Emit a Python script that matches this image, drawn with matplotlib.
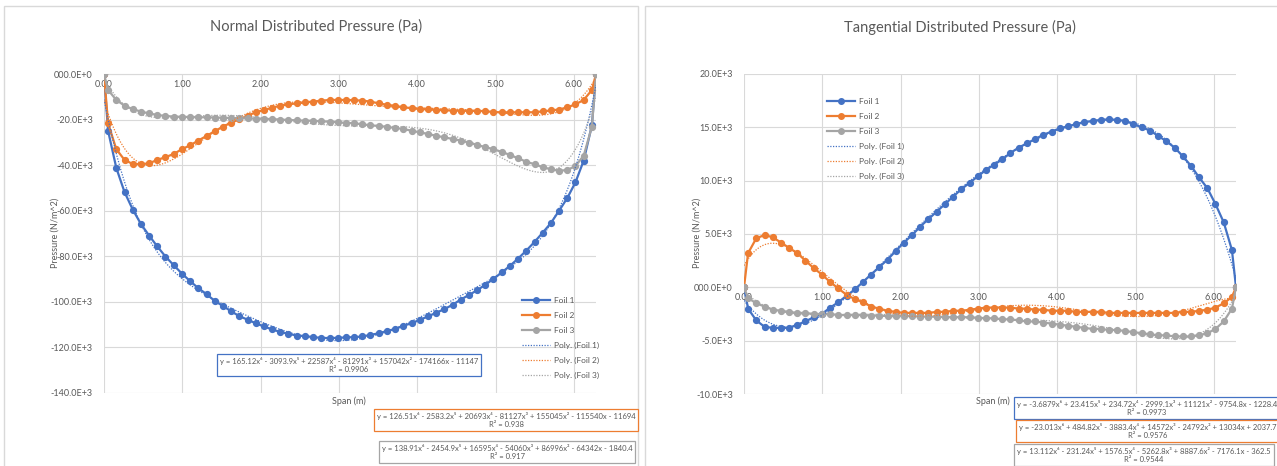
import numpy as np
import matplotlib
matplotlib.use("Agg")
import matplotlib.pyplot as plt
from matplotlib.lines import Line2D
from matplotlib.patches import Rectangle

plt.rcParams['font.family'] = ['Lato', 'DejaVu Sans']

# span positions (m) of the 62 nodes
span = [0.0, 0.052, 0.157, 0.262, 0.367, 0.471, 0.576, 0.681, 0.785, 0.890,
        0.995, 1.100, 1.204, 1.309, 1.414, 1.518, 1.623, 1.728, 1.833, 1.937,
        2.042, 2.147, 2.251, 2.356, 2.461, 2.566, 2.670, 2.775, 2.880, 2.985,
        3.089, 3.194, 3.299, 3.403, 3.508, 3.613, 3.718, 3.822, 3.927, 4.032,
        4.136, 4.241, 4.346, 4.451, 4.555, 4.660, 4.765, 4.869, 4.974, 5.079,
        5.184, 5.288, 5.393, 5.498, 5.603, 5.707, 5.812, 5.917, 6.021, 6.126,
        6.231, 6.283]

# normal pressure (E+3 Pa)
normal_foil1 = [0, -24.9, -41.2, -51.8, -59.5, -65.8, -70.9, -75.7, -80.1, -83.9,
                -87.6, -90.9, -94.0, -96.6, -99.6, -101.8, -104.1, -106.3, -107.8, -109.4,
                -110.8, -112.1, -113.2, -114.0, -114.8, -115.0, -115.5, -115.8, -115.9, -115.8,
                -115.6, -115.5, -115.2, -114.5, -113.8, -112.8, -111.9, -110.5, -109.4, -107.9,
                -106.4, -104.8, -103.2, -101.3, -99.0, -97.0, -94.9, -92.5, -89.9, -87.1,
                -84.2, -81.0, -77.5, -73.7, -69.6, -65.4, -60.0, -54.4, -47.5, -38.0,
                -22.4, 0]
normal_foil2 = [0, -21.6, -33.0, -37.7, -39.5, -39.6, -39.2, -37.7, -36.5, -35.1,
                -33.0, -31.3, -29.2, -27.2, -25.1, -23.1, -21.4, -19.9, -18.3, -16.8,
                -15.8, -14.8, -13.9, -13.3, -12.9, -12.5, -12.1, -11.7, -11.4, -11.4,
                -11.4, -11.5, -11.7, -12.1, -12.9, -13.5, -14.0, -14.6, -15.0, -15.4,
                -15.5, -15.8, -15.9, -16.1, -16.1, -16.2, -16.2, -16.3, -16.7, -16.8,
                -16.8, -16.8, -16.8, -16.8, -16.4, -16.0, -15.6, -14.6, -13.3, -11.4,
                -7.0, 0]
normal_foil3 = [0, -7.0, -11.4, -13.9, -15.4, -16.5, -17.3, -18.0, -18.4, -18.7,
                -18.8, -18.9, -19.0, -19.0, -19.1, -19.2, -19.3, -19.4, -19.5, -19.6,
                -19.7, -19.8, -20.0, -20.2, -20.3, -20.5, -20.5, -20.8, -20.9, -21.2,
                -21.5, -21.6, -22.1, -22.5, -22.8, -23.2, -23.7, -24.1, -24.9, -25.6,
                -26.3, -27.1, -27.8, -28.5, -29.2, -30.1, -31.1, -32.1, -33.0, -34.2,
                -35.5, -37.0, -38.5, -39.6, -40.9, -41.8, -42.5, -42.1, -40.4, -35.8,
                -23.1, 0]

# tangential pressure (E+3 Pa)
tang_foil1 = [0, -2.0, -3.1, -3.7, -3.8, -3.8, -3.8, -3.5, -3.2, -2.8,
              -2.5, -1.9, -1.4, -0.8, -0.2, 0.5, 1.2, 1.9, 2.6, 3.4,
              4.2, 4.9, 5.7, 6.4, 7.1, 7.8, 8.5, 9.2, 9.8, 10.4,
              11.0, 11.5, 12.0, 12.6, 13.1, 13.5, 13.9, 14.3, 14.6, 14.9,
              15.1, 15.3, 15.5, 15.6, 15.7, 15.75, 15.7, 15.6, 15.3, 15.0,
              14.7, 14.2, 13.7, 13.1, 12.3, 11.4, 10.3, 9.3, 7.8, 6.1,
              3.5, 0]
tang_foil2 = [0, 3.2, 4.6, 4.9, 4.7, 4.2, 3.7, 3.2, 2.5, 1.8,
              1.2, 0.5, -0.1, -0.7, -1.1, -1.4, -1.8, -2.0, -2.2, -2.3,
              -2.4, -2.4, -2.4, -2.4, -2.3, -2.3, -2.2, -2.2, -2.1, -2.0,
              -1.9, -1.9, -1.9, -1.9, -2.0, -2.0, -2.1, -2.1, -2.2, -2.2,
              -2.2, -2.3, -2.3, -2.3, -2.3, -2.4, -2.4, -2.4, -2.4, -2.4,
              -2.4, -2.4, -2.4, -2.4, -2.3, -2.3, -2.2, -2.1, -1.9, -1.5,
              -0.9, 0]
tang_foil3 = [0, -1.0, -1.5, -1.8, -2.1, -2.2, -2.3, -2.4, -2.4, -2.5,
              -2.5, -2.5, -2.6, -2.6, -2.6, -2.6, -2.65, -2.65, -2.7, -2.7,
              -2.7, -2.7, -2.75, -2.75, -2.75, -2.8, -2.8, -2.8, -2.8, -2.85,
              -2.9, -2.9, -3.0, -3.0, -3.1, -3.2, -3.2, -3.3, -3.4, -3.5,
              -3.6, -3.7, -3.8, -3.9, -3.9, -4.0, -4.0, -4.1, -4.2, -4.3,
              -4.4, -4.5, -4.5, -4.6, -4.6, -4.6, -4.5, -4.3, -3.9, -3.2,
              -2.0, 0]

# Excel 6th order trendline coefficients (Pa), highest power first
normal_poly1 = [165.12, -3093.9, 22587, -81291, 157042, -174166, -11147]
normal_poly2 = [126.51, -2583.2, 20693, -81127, 155045, -115540, -11694]
normal_poly3 = [138.91, -2454.9, 16595, -54060, 86996, -64342, -1840.4]
tang_poly1 = [-3.6879, 23.415, 234.72, -2999.1, 11121, -9754.8, -1228.4]
tang_poly2 = [-23.013, 484.82, -3883.4, 14572, -24792, 13034, 2037.7]
tang_poly3 = [13.112, -231.24, 1576.5, -5262.8, 8887.6, -7176.1, -362.5]

normal_eqs = ["y = 165.12x\u2076 - 3093.9x\u2075 + 22587x\u2074 - 81291x\u00b3 + 157042x\u00b2 - 174166x - 11147\nR\u00b2 = 0.9906",
              "y = 126.51x\u2076 - 2583.2x\u2075 + 20693x\u2074 - 81127x\u00b3 + 155045x\u00b2 - 115540x - 11694\nR\u00b2 = 0.938",
              "y = 138.91x\u2076 - 2454.9x\u2075 + 16595x\u2074 - 54060x\u00b3 + 86996x\u00b2 - 64342x - 1840.4\nR\u00b2 = 0.917"]
tang_eqs = ["y = -3.6879x\u2076 + 23.415x\u2075 + 234.72x\u2074 - 2999.1x\u00b3 + 11121x\u00b2 - 9754.8x - 1228.4\nR\u00b2 = 0.9973",
            "y = -23.013x\u2076 + 484.82x\u2075 - 3883.4x\u2074 + 14572x\u00b3 - 24792x\u00b2 + 13034x + 2037.7\nR\u00b2 = 0.9576",
            "y = 13.112x\u2076 - 231.24x\u2075 + 1576.5x\u2074 - 5262.8x\u00b3 + 8887.6x\u00b2 - 7176.1x - 362.5\nR\u00b2 = 0.9544"]

x_ticks = [0, 1, 2, 3, 4, 5, 6]
x_ticklabels = ['0.00', '1.00', '2.00', '3.00', '4.00', '5.00', '6.00']
normal_yticks = [0, -20e3, -40e3, -60e3, -80e3, -100e3, -120e3, -140e3]
normal_yticklabels = ['000.0E+0', '-20.0E+3', '-40.0E+3', '-60.0E+3',
                      '-80.0E+3', '-100.0E+3', '-120.0E+3', '-140.0E+3']
tang_yticks = [20e3, 15e3, 10e3, 5e3, 0, -5e3, -10e3]
tang_yticklabels = ['20.0E+3', '15.0E+3', '10.0E+3', '5.0E+3',
                    '000.0E+0', '-5.0E+3', '-10.0E+3']

colors = ['#4472C4', '#ED7D31', '#A5A5A5']
labels = ['Foil 1', 'Foil 2', 'Foil 3']
txt = '#595959'
grid = '#d9d9d9'

W, H = 1277, 466
fig = plt.figure(figsize=(W / 100, H / 100), dpi=100)


def fx(px):
    return px / W


def fy(py):
    return 1 - py / H


def draw_panel(rect, series, polys, eqs, yticks, yticklabels, ylim, title,
               title_x, ylabel_x, ylabel_y, xlabel_xy, legend_xy, eq_boxes):
    ax = fig.add_axes(rect)
    xs = np.array(span)
    xf = np.linspace(0, span[-1], 300)
    for vals, c, lab in zip(series, colors, labels):
        ax.plot(xs, np.array(vals) * 1e3, color=c, lw=1.6, marker='o',
                ms=4.2, label=lab, zorder=3)
    for p, c in zip(polys, colors):
        ax.plot(xf, np.polyval(p, xf), color=c, lw=0.9, ls=(0, (1, 1.2)), zorder=4)

    ax.set_xlim(0, span[-1])
    ax.set_ylim(*ylim)
    ax.set_xticks(x_ticks)
    ax.set_xticklabels(x_ticklabels)
    ax.set_yticks(yticks)
    ax.set_yticklabels(yticklabels)
    for s in ['top', 'left', 'right']:
        ax.spines[s].set_visible(False)
    ax.spines['bottom'].set_position(('data', 0))
    ax.spines['bottom'].set_color(grid)
    ax.tick_params(length=0, labelsize=6.5, labelcolor=txt)
    ax.tick_params(axis='x', pad=4)
    ax.tick_params(axis='y', pad=8)
    ax.grid(True, color=grid, lw=0.8)
    ax.set_axisbelow(True)

    fig.text(fx(title_x), fy(27), title, ha='center', va='center',
             fontsize=10.5, color=txt)
    fig.text(fx(ylabel_x), fy(ylabel_y), 'Pressure (N/m^2)', rotation=90,
             ha='center', va='center', fontsize=6.5, color=txt)
    fig.text(fx(xlabel_xy[0]), fy(xlabel_xy[1]), 'Span (m)', ha='center',
             va='center', fontsize=6.5, color=txt)

    handles = [Line2D([], [], color=c, lw=1.6, marker='o', ms=4) for c in colors]
    handles += [Line2D([], [], color=c, lw=0.9, ls=(0, (1, 1.2))) for c in colors]
    names = labels + ['Poly. (%s)' % l for l in labels]
    leg = ax.legend(handles, names, loc='upper left',
                    bbox_to_anchor=(fx(legend_xy[0]), fy(legend_xy[1])),
                    bbox_transform=fig.transFigure, frameon=False,
                    fontsize=6, labelcolor=txt, handlelength=3.3,
                    labelspacing=0.95, borderpad=0, handletextpad=0.5)
    leg.set_zorder(5)

    for eq, c, (cx, cy) in zip(eqs, colors, eq_boxes):
        fig.text(fx(cx), fy(cy), eq, ha='center', va='center', fontsize=5.5,
                 color=txt, linespacing=1.3, multialignment='center',
                 bbox=dict(boxstyle='square,pad=0.4', fc='white', ec=c, lw=0.9))
    return ax


# chart borders
fig.add_artist(Rectangle((fx(4), fy(470)), fx(634), fy(6) - fy(470),
                         transform=fig.transFigure, fill=False, ec=grid, lw=1))
fig.add_artist(Rectangle((fx(645), fy(470)), fx(640), fy(6) - fy(470),
                         transform=fig.transFigure, fill=False, ec=grid, lw=1))

draw_panel([fx(104), fy(393), fx(596) - fx(104), fy(74) - fy(393)],
           [normal_foil1, normal_foil2, normal_foil3],
           [normal_poly1, normal_poly2, normal_poly3], normal_eqs,
           normal_yticks, normal_yticklabels, (-140e3, 0),
           'Normal Distributed Pressure (Pa)', 316, 55, 233, (349, 401),
           (518, 293), [(349, 365), (506, 420), (507, 452)])

draw_panel([fx(744), fy(394), fx(1236) - fx(744), fy(74) - fy(394)],
           [tang_foil1, tang_foil2, tang_foil3],
           [tang_poly1, tang_poly2, tang_poly3], tang_eqs,
           tang_yticks, tang_yticklabels, (-10e3, 20e3),
           'Tangential Distributed Pressure (Pa)', 960, 697, 233, (993, 401),
           (823, 94), [(1147, 408), (1148, 431), (1144, 455)])

fig.savefig('out.png', dpi=100, facecolor='white')
